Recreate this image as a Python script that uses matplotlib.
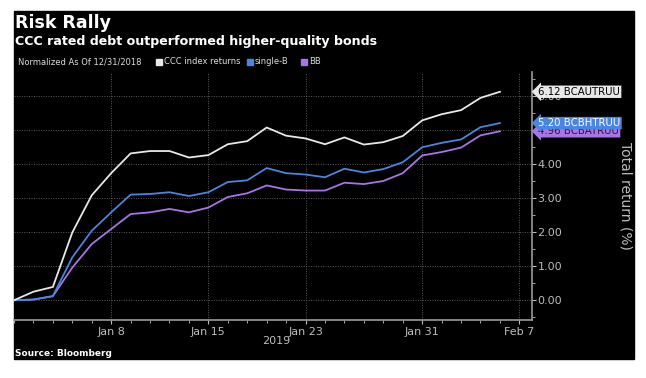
import numpy as np
import matplotlib
matplotlib.use("Agg")
import matplotlib.pyplot as plt
from matplotlib.patches import Rectangle

# business days, Dec 31 2018 .. Feb 6 2019
ccc = [0.00, 0.25, 0.39, 1.99, 3.08, 3.73, 4.31, 4.38, 4.38, 4.19, 4.26, 4.58, 4.67,
       5.07, 4.83, 4.75, 4.58, 4.78, 4.57, 4.64, 4.82, 5.28, 5.46, 5.58, 5.94, 6.12]
single_b = [0.00, 0.02, 0.12, 1.26, 2.04, 2.58, 3.10, 3.12, 3.17, 3.06, 3.17, 3.47, 3.52,
            3.88, 3.73, 3.69, 3.61, 3.86, 3.75, 3.85, 4.05, 4.49, 4.62, 4.72, 5.08, 5.20]
bb = [0.00, 0.02, 0.12, 0.96, 1.65, 2.09, 2.53, 2.58, 2.68, 2.58, 2.72, 3.03, 3.14,
      3.37, 3.25, 3.22, 3.22, 3.45, 3.41, 3.50, 3.73, 4.25, 4.35, 4.48, 4.84, 4.96]

tick_pos = [5, 10, 15, 21, 26]
tick_labels = ['Jan 8', 'Jan 15', 'Jan 23', 'Jan 31', 'Feb 7']
tickers = ['BCAUTRUU', 'BCBHTRUU', 'BCBATRUU']

c_white = '#e8e8e8'
c_blue = '#4a85e0'
c_purple = '#a874e6'
grey = '#bdbdbd'

W, H = 646, 378
fig = plt.figure(figsize=(W / 100, H / 100), dpi=100)
fig.patch.set_facecolor('white')
fig.patches.append(Rectangle((14 / W, 1 - 359 / H), 620 / W, 348 / H,
                             transform=fig.transFigure, color='black', zorder=-10))

ax = fig.add_axes([14 / W, 1 - 320 / H, (532 - 14) / W, (320 - 72) / H])
ax.set_facecolor('black')

x = np.arange(len(ccc))
ax.plot(x, bb, color=c_purple, lw=1.3)
ax.plot(x, single_b, color=c_blue, lw=1.3)
ax.plot(x, ccc, color=c_white, lw=1.3)

ax.set_xlim(0, 26.65)
ax.set_ylim(-0.58, 6.7)

ax.yaxis.tick_right()
ax.yaxis.set_label_position('right')
ax.set_yticks(range(0, 7))
ax.set_yticklabels(['%.2f' % v for v in range(0, 7)])
ax.set_yticks(np.arange(-0.5, 6.6, 0.5), minor=True)
ax.set_xticks(tick_pos)
ax.set_xticklabels(tick_labels)
ax.set_xticks(x, minor=True)

ax.tick_params(colors=grey, labelsize=8, length=3, width=0.8, direction='out')
ax.tick_params(which='minor', colors=grey, length=2, width=0.6)
ax.tick_params(axis='y', pad=1)
ax.tick_params(axis='x', pad=2)

ax.grid(True, which='major', color='#5a5a5a', linestyle=(0, (1, 1.5)), lw=0.7)
for s in ['top', 'left']:
    ax.spines[s].set_visible(False)
for s in ['right', 'bottom']:
    ax.spines[s].set_color('#9a9a9a')
    ax.spines[s].set_linewidth(1.2)

ax.set_ylabel('Total return (%)', color=grey, fontsize=10, rotation=270, va='center')
ax.yaxis.set_label_coords(1.18, 0.5)

# end-of-line labels
last = [ccc[-1], single_b[-1], bb[-1]]
styles = [(c_white, 'black'), (c_blue, 'white'), (c_purple, '#2a1540')]
for val, tk, (bg, fg), z in zip(last, tickers, styles, [5, 5, 4]):
    ax.annotate('%.2f %s' % (val, tk), xy=(1.0, val), xycoords=('axes fraction', 'data'),
                xytext=(4.5, 0), textcoords='offset points', va='center', ha='left',
                fontsize=7.3, color=fg, annotation_clip=False, zorder=z,
                bbox=dict(boxstyle='larrow,pad=0.12', fc=bg, ec='none'))

fig.text(15 / W, 1 - 23 / H, 'Risk Rally', color='white', fontsize=12.5,
         fontweight='bold', va='center')
fig.text(15 / W, 1 - 42 / H, 'CCC rated debt outperformed higher-quality bonds',
         color='white', fontsize=9.1, fontweight='bold', va='center')

# legend row
lx = 18 / W
ly = 1 - 62 / H
fig.text(lx, ly, 'Normalized As Of 12/31/2018', color='#dddddd', fontsize=6, va='center')
entries = [('CCC index returns', c_white), ('single-B', c_blue), ('BB', c_purple)]
positions = [156, 247, 301]
for (lab, col), px in zip(entries, positions):
    fig.patches.append(Rectangle((px / W, ly - 3 / H), 6 / W, 6 / H,
                                 transform=fig.transFigure, color=col, zorder=3))
    fig.text((px + 8) / W, ly, lab, color='#dddddd', fontsize=6, va='center')

fig.text(276 / W, 1 - 341 / H, '2019', color=grey, fontsize=8, ha='center', va='center')
fig.text(15 / W, 1 - 353 / H, 'Source: Bloomberg', color='white', fontsize=6.5,
         fontweight='bold', va='center')

fig.savefig('out.png', dpi=100, facecolor='white')
